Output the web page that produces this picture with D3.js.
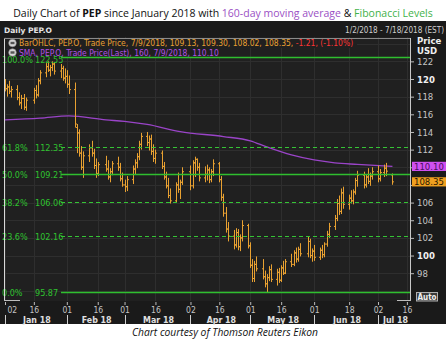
<!DOCTYPE html>
<html><head><meta charset="utf-8">
<script src="https://cdn.jsdelivr.net/npm/d3@7"></script>
<style>body{margin:0;background:#fff}svg{display:block}</style>
</head><body>
<svg id="c" width="446" height="341"></svg>
<script>
// Daily OHLC bars for PEP.O, Jan 2 – Jul 9 2018
const tradeDates = [
"2018-01-02","2018-01-03","2018-01-04","2018-01-05","2018-01-08","2018-01-09","2018-01-10","2018-01-11","2018-01-12",
"2018-01-16","2018-01-17","2018-01-18","2018-01-19","2018-01-22","2018-01-23","2018-01-24","2018-01-25","2018-01-26",
"2018-01-29","2018-01-30","2018-01-31","2018-02-01","2018-02-02","2018-02-05","2018-02-06","2018-02-07","2018-02-08",
"2018-02-09","2018-02-12","2018-02-13","2018-02-14","2018-02-15","2018-02-16","2018-02-20","2018-02-21","2018-02-22",
"2018-02-23","2018-02-26","2018-02-27","2018-02-28","2018-03-01","2018-03-02","2018-03-05","2018-03-06","2018-03-07",
"2018-03-08","2018-03-09","2018-03-12","2018-03-13","2018-03-14","2018-03-15","2018-03-16","2018-03-19","2018-03-20",
"2018-03-21","2018-03-22","2018-03-23","2018-03-26","2018-03-27","2018-03-28","2018-03-29","2018-04-02","2018-04-03",
"2018-04-04","2018-04-05","2018-04-06","2018-04-09","2018-04-10","2018-04-11","2018-04-12","2018-04-13","2018-04-16",
"2018-04-17","2018-04-18","2018-04-19","2018-04-20","2018-04-23","2018-04-24","2018-04-25","2018-04-26","2018-04-27",
"2018-04-30","2018-05-01","2018-05-02","2018-05-03","2018-05-04","2018-05-07","2018-05-08","2018-05-09","2018-05-10",
"2018-05-11","2018-05-14","2018-05-15","2018-05-16","2018-05-17","2018-05-18","2018-05-21","2018-05-22","2018-05-23",
"2018-05-24","2018-05-25","2018-05-29","2018-05-30","2018-05-31","2018-06-01","2018-06-04","2018-06-05","2018-06-06",
"2018-06-07","2018-06-08","2018-06-11","2018-06-12","2018-06-13","2018-06-14","2018-06-15","2018-06-18","2018-06-19",
"2018-06-20","2018-06-21","2018-06-22","2018-06-25","2018-06-26","2018-06-27","2018-06-28","2018-06-29","2018-07-02",
"2018-07-03","2018-07-05","2018-07-06","2018-07-09"];

const openPx = [
119.6,118.9,119.1,118.6,118.8,117.9,117.3,117.8,116.8,
117.6,118.7,118.2,119.8,120.7,121.4,121.0,121.3,121.7,
120.9,121.2,120.1,120.3,119.4,118.8,114.5,113.9,111.6,
110.0,111.3,112.2,111.6,110.2,109.3,110.3,109.8,108.9,
109.5,110.4,110.0,108.7,108.0,107.8,108.6,109.8,110.5,
111.2,112.6,113.5,112.8,113.2,111.8,111.0,111.6,110.1,
108.9,107.9,106.8,106.2,108.0,107.5,108.3,109.5,107.9,
110.5,110.9,110.0,108.8,109.2,109.7,108.6,109.5,110.4,
108.6,106.6,104.8,103.0,102.2,101.2,102.6,101.0,102.0,
103.4,101.1,98.9,97.4,99.0,98.5,97.6,96.8,97.5,
98.4,97.3,98.1,97.2,98.6,98.0,99.3,99.0,100.3,
99.6,100.7,100.2,101.6,100.0,100.5,99.8,100.6,100.1,
101.3,102.4,103.3,104.2,105.9,105.0,107.1,105.8,106.5,
106.2,107.2,108.5,109.1,108.0,108.9,108.4,109.0,109.5,
108.7,109.4,109.9,109.13];

const highPx = [
120.0,119.4,119.8,119.2,119.3,118.5,118.2,118.3,117.9,
119.0,119.3,120.1,121.0,121.8,122.0,121.6,122.0,121.9,
121.7,121.5,121.2,121.0,120.4,119.6,114.9,114.3,112.4,
111.8,112.6,113.0,112.1,111.0,110.6,111.3,110.8,109.9,
110.7,111.2,110.5,109.4,108.6,109.0,110.2,110.9,111.6,
113.0,113.9,114.0,113.6,113.7,112.6,112.0,111.9,110.6,
109.5,108.8,107.6,108.3,109.4,108.6,110.0,110.2,110.8,
111.2,111.0,110.5,110.1,110.3,110.0,109.8,110.9,110.6,
109.0,107.0,105.5,103.8,102.9,103.1,103.0,102.4,104.0,
103.6,101.5,99.6,99.4,99.9,99.6,98.3,97.9,98.8,
99.0,98.5,98.6,98.9,99.4,99.6,100.2,100.6,100.9,
101.0,101.4,102.1,101.9,100.8,101.2,100.9,101.2,101.5,
102.8,103.7,104.6,106.4,106.8,107.6,107.8,106.9,107.4,
107.5,108.8,109.6,109.5,109.2,109.9,109.4,110.0,110.2,
109.8,110.3,110.5,109.30];

const lowPx = [
118.6,118.0,118.3,117.9,117.6,117.0,116.6,116.5,116.4,
117.2,117.8,118.0,119.4,120.2,120.8,120.3,120.9,120.5,
120.1,119.8,119.5,119.0,118.3,114.5,111.6,111.2,109.7,
108.8,110.6,111.2,109.8,108.8,109.0,109.5,108.6,108.3,
109.1,109.6,108.4,107.8,107.2,107.3,108.1,109.2,109.9,
110.8,112.0,112.4,111.9,111.4,110.6,110.4,109.8,108.6,
107.6,106.5,105.9,106.0,107.1,106.4,108.0,107.4,107.6,
108.9,109.6,108.4,108.3,108.5,108.2,108.3,109.0,108.3,
106.2,104.4,102.6,101.6,100.7,100.9,100.6,100.5,101.6,
100.8,98.6,97.0,97.0,98.2,97.3,96.4,95.87,97.1,
97.0,96.6,96.9,97.0,97.8,97.9,98.7,98.8,99.2,
99.3,99.9,99.8,99.7,99.3,99.4,99.5,99.7,99.8,
101.0,102.0,102.9,103.9,104.6,104.7,105.3,105.2,105.9,
105.8,106.9,107.8,107.6,107.7,108.1,107.9,108.6,108.3,
108.4,108.9,109.0,108.02];

const closePx = [
118.9,119.1,118.6,118.8,117.9,117.3,117.8,116.8,117.6,
118.7,118.2,119.8,120.7,121.4,121.0,121.3,121.7,120.9,
121.2,120.1,120.3,119.4,118.8,114.9,113.9,111.6,110.0,
111.3,112.2,111.6,110.2,109.3,110.3,109.8,108.9,109.5,
110.4,110.0,108.7,108.0,107.8,108.6,109.8,110.5,111.2,
112.6,113.5,112.8,113.2,111.8,111.0,111.6,110.1,108.9,
107.9,106.8,106.2,108.0,107.5,108.3,109.5,107.9,110.5,
110.9,110.0,108.8,109.2,109.7,108.6,109.5,110.4,108.6,
106.6,104.8,103.0,102.2,101.2,102.6,101.0,102.0,103.4,
101.1,98.9,97.4,99.0,98.5,97.6,96.8,97.5,98.4,
97.3,98.1,97.2,98.6,98.0,99.3,99.0,100.3,99.6,
100.7,100.2,101.6,100.0,100.5,99.8,100.6,100.1,101.3,
102.4,103.3,104.2,105.9,105.0,107.1,105.8,106.5,106.2,
107.2,108.5,109.1,108.0,108.9,108.4,109.0,109.5,108.7,
109.4,109.9,109.56,108.35];

// 160-day simple moving average
const smaDates = ["2018-01-02","2018-01-19","2018-02-02","2018-02-20","2018-03-01","2018-03-12","2018-03-28",
                  "2018-04-18","2018-05-01","2018-05-09","2018-05-21","2018-06-01","2018-06-11","2018-06-22","2018-07-09"];
const smaValues = [115.37,115.56,115.82,115.37,115.20,114.85,114.04,113.48,113.00,112.31,111.40,110.83,110.50,110.33,110.10];

// Fibonacci retracement levels
const fibRatios = ["0.0%","23.6%","38.2%","50.0%","61.8%","100.0%"];
const fibLevels = [95.87,102.16,106.06,109.21,112.35,122.55];
const fibSolid  = [true,false,false,true,false,true];

const priceTicks = [98,100,102,104,106,108,110,112,114,116,118,120,122];
const boldTicks = [100,120];
const hiddenTicks = [108,110];
const dateTicks = ["2018-01-02","2018-01-16","2018-02-01","2018-02-16","2018-03-01","2018-03-16","2018-04-02",
                   "2018-04-16","2018-05-01","2018-05-16","2018-06-01","2018-06-18","2018-07-02","2018-07-16"];
const monthStarts = ["2018-01-02","2018-02-01","2018-03-01","2018-04-02","2018-05-01","2018-06-01","2018-07-02"];
const monthNames = ["Jan 18","Feb 18","Mar 18","Apr 18","May 18","Jun 18","Jul 18"];

const lastSma = 110.10, lastClose = 108.35;

const parse = d3.utcParse("%Y-%m-%d");
const svg = d3.select("#c");
const W = 446, H = 341;
const plot = {x0: 4, x1: 411, y0: 37, y1: 301};
const UI = "'DejaVu Sans Condensed', 'DejaVu Sans', sans-serif";

const x = d3.scaleUtc().domain([parse("2018-01-02"), parse("2018-07-18")]).range([5, 411]);
const y = d3.scaleLinear().domain([95.87, 122.55]).range([292, 56.5]);

// shrink a text's font until it fits the given width
function fit(sel, width) {
  const n = sel.node();
  const size = +sel.attr("font-size");
  const len = n.getComputedTextLength();
  if (len > 0) sel.attr("font-size", (size * width / len).toFixed(2));
  return sel;
}

svg.append("rect").attr("width", W).attr("height", H).attr("fill", "#fff");
svg.append("rect").attr("x", 0).attr("y", 21).attr("width", W).attr("height", 303).attr("fill", "#1a1a1a");
svg.append("rect").attr("x", plot.x0).attr("y", plot.y0).attr("width", plot.x1 - plot.x0)
   .attr("height", plot.y1 - plot.y0).attr("fill", "#202020");

// Title
const title = svg.append("text").attr("x", 223).attr("y", 16.5).attr("text-anchor", "middle")
  .attr("font-family", "'Open Sans', sans-serif").attr("font-size", 12).attr("fill", "#111");
title.append("tspan").text("Daily Chart of ");
title.append("tspan").attr("font-weight", "bold").text("PEP");
title.append("tspan").text(" since January 2018 with ");
title.append("tspan").attr("fill", "#9a4fc4").text("160-day moving average");
title.append("tspan").text(" & ");
title.append("tspan").attr("fill", "#3fb24a").text("Fibonacci Levels");
fit(title, 420);

// Header
fit(svg.append("text").attr("x", 4).attr("y", 33).attr("font-family", "'DejaVu Sans', sans-serif")
  .attr("font-size", 10).attr("font-weight", "bold").attr("fill", "#e4e4e4").text("Daily PEP.O"), 48);
fit(svg.append("text").attr("x", 444).attr("y", 33).attr("text-anchor", "end")
  .attr("font-family", UI).attr("font-size", 10).attr("fill", "#cfcfcf")
  .text("1/2/2018 - 7/18/2018 (EST)"), 99);

// Grid
const grid = svg.append("g").attr("stroke", "#2e2e2e").attr("stroke-width", 1);
grid.selectAll("line.h").data(d3.range(96, 125, 2)).join("line")
  .attr("x1", plot.x0).attr("x2", plot.x1)
  .attr("y1", d => Math.round(y(d)) + 0.5).attr("y2", d => Math.round(y(d)) + 0.5);
grid.selectAll("line.v").data(dateTicks).join("line")
  .attr("x1", d => Math.round(x(parse(d))) + 0.5).attr("x2", d => Math.round(x(parse(d))) + 0.5)
  .attr("y1", plot.y0).attr("y2", plot.y1);

// Fibonacci lines
const fibG = svg.append("g");
fibLevels.forEach((lv, i) => {
  const yy = Math.round(y(lv)) + 0.5;
  fibG.append("line").attr("x1", 61).attr("x2", plot.x1).attr("y1", yy).attr("y2", yy)
    .attr("stroke", fibSolid[i] ? "#2fbf2f" : "#35c435").attr("stroke-width", fibSolid[i] ? 1.3 : 1)
    .attr("stroke-dasharray", fibSolid[i] ? null : "4,3");
});

// Moving average
const smaLine = d3.line().x((d, i) => x(parse(smaDates[i]))).y(d => y(d)).curve(d3.curveMonotoneX);
svg.append("path").attr("d", smaLine(smaValues)).attr("fill", "none")
  .attr("stroke", "#9a44c8").attr("stroke-width", 1.3);

// OHLC bars
const bars = svg.append("g").attr("stroke", "#e9a131").attr("stroke-width", 1);
tradeDates.forEach((d, i) => {
  const cx = Math.round(x(parse(d))) + 0.5;
  bars.append("line").attr("x1", cx).attr("x2", cx).attr("y1", y(highPx[i])).attr("y2", y(lowPx[i]));
  bars.append("line").attr("x1", cx - 1.5).attr("x2", cx).attr("y1", y(openPx[i])).attr("y2", y(openPx[i]));
  bars.append("line").attr("x1", cx).attr("x2", cx + 1.5).attr("y1", y(closePx[i])).attr("y2", y(closePx[i]));
});

// Legend backing
svg.append("rect").attr("x", 5).attr("y", 39).attr("width", 352).attr("height", 9).attr("fill", "#202020");
svg.append("rect").attr("x", 5).attr("y", 48).attr("width", 217).attr("height", 9).attr("fill", "#202020");

// Fibonacci labels (the top one sits just under the legend rows)
fibLevels.forEach((lv, i) => {
  const yy = Math.round(y(lv)) + 0.5 + (i === fibLevels.length - 1 ? 2 : 0);
  fibG.append("text").attr("x", 2).attr("y", yy + 3.5).attr("font-family", UI)
    .attr("font-size", 9).attr("fill", "#2fc22f").text(fibRatios[i]);
  fibG.append("text").attr("x", 35).attr("y", yy + 3.5).attr("font-family", UI)
    .attr("font-size", 9).attr("fill", "#2fc22f").text(lv.toFixed(2));
});
svg.node().appendChild(fibG.node());

// Plot frame
svg.append("line").attr("x1", 4.5).attr("x2", 4.5).attr("y1", 38).attr("y2", 301).attr("stroke", "#d8d8d8");
svg.append("line").attr("x1", 4).attr("x2", 411).attr("y1", 38.5).attr("y2", 38.5).attr("stroke", "#8a8a8a");
svg.append("line").attr("x1", 410.5).attr("x2", 410.5).attr("y1", 38).attr("y2", 301).attr("stroke", "#c8c8c8");
svg.append("line").attr("x1", 4).attr("x2", 20).attr("y1", 300.5).attr("y2", 300.5).attr("stroke", "#bdbdbd");
svg.append("line").attr("x1", 397).attr("x2", 411).attr("y1", 300.5).attr("y2", 300.5).attr("stroke", "#bdbdbd");

// Legend
function icon(cy) {
  svg.append("circle").attr("cx", 12.5).attr("cy", cy).attr("r", 3.8).attr("fill", "#d6d6d6").attr("stroke", "#8a8a8a").attr("stroke-width", 0.6);
  svg.append("rect").attr("x", 10.5).attr("y", cy - 1.2).attr("width", 4).attr("height", 2.4).attr("fill", "#555");
}
icon(43);
icon(52.5);
const lg1 = svg.append("text").attr("x", 19).attr("y", 46.2).attr("font-family", UI).attr("font-size", 9.5);
lg1.append("tspan").attr("fill", "#eba032")
  .text("BarOHLC, PEP.O, Trade Price, 7/9/2018, 109.13, 109.30, 108.02, 108.35, ");
lg1.append("tspan").attr("fill", "#ff3535").text("-1.21, (-1.10%)");
fit(lg1, 334);
fit(svg.append("text").attr("x", 19).attr("y", 55.6).attr("font-family", UI)
  .attr("font-size", 9.5).attr("fill", "#b152e6")
  .text("SMA, PEP.O, Trade Price(Last),  160, 7/9/2018, 110.10"), 200);

// Price axis
const yAxis = d3.axisRight(y).tickValues(priceTicks).tickSize(3).tickPadding(3)
  .tickFormat(d => hiddenTicks.includes(d) ? "" : d3.format("d")(d));
const ya = svg.append("g").attr("transform", `translate(${plot.x1},0)`).call(yAxis);
ya.select(".domain").remove();
ya.selectAll(".tick line").attr("stroke", "#bbb");
ya.selectAll(".tick text").attr("fill", d => boldTicks.includes(d) ? "#f0f0f0" : "#c4c4c4")
  .attr("font-weight", d => boldTicks.includes(d) ? "bold" : "normal")
  .attr("font-family", UI).attr("font-size", 9.5);
svg.append("text").attr("x", 417).attr("y", 43.8).attr("font-family", UI)
  .attr("font-size", 9.5).attr("font-weight", "bold").attr("fill", "#eee").text("Price");
svg.append("text").attr("x", 417).attr("y", 54.2).attr("font-family", UI)
  .attr("font-size", 9.5).attr("font-weight", "bold").attr("fill", "#eee").text("USD");

// Last-value tags
function tag(v, bg, fg) {
  const cy = y(v);
  svg.append("rect").attr("x", 412).attr("y", cy - 4.6).attr("width", 34).attr("height", 9.2).attr("fill", bg);
  svg.append("text").attr("x", 414).attr("y", cy + 3.4).attr("font-family", UI)
    .attr("font-size", 9.5).attr("fill", fg).text(v.toFixed(2));
}
tag(lastSma, "#d050f0", "#4a0e60");
tag(lastClose, "#f0a020", "#2a1600");

// Date axis
const xAxis = d3.axisBottom(x).tickValues(dateTicks.map(parse)).tickSize(3).tickPadding(1.5)
  .tickFormat(d3.utcFormat("%d"));
const xa = svg.append("g").attr("transform", `translate(0,${plot.y1 + 1})`).call(xAxis);
xa.select(".domain").remove();
xa.selectAll(".tick line").attr("stroke", "#bbb");
xa.selectAll(".tick text").attr("fill", "#c4c4c4").attr("font-family", UI).attr("font-size", 8.5);
xa.select(".tick text").attr("text-anchor", "start").attr("dx", 2);

// Month bands
const mEnds = monthStarts.slice(1).map(parse).concat([parse("2018-07-18")]);
monthStarts.forEach((m, i) => {
  const a = x(parse(m)), b = x(mEnds[i]);
  const sx = Math.round(a) + 0.5;
  svg.append("line").attr("x1", sx).attr("x2", sx).attr("y1", 315).attr("y2", 324).attr("stroke", "#cfcfcf");
  svg.append("text").attr("x", (a + b) / 2 + 1).attr("y", 323).attr("text-anchor", "middle")
    .attr("font-family", UI).attr("font-size", 8.8).attr("font-weight", "bold")
    .attr("fill", "#e0e0e0").text(monthNames[i]);
});

// Auto button
svg.append("rect").attr("x", 416.5).attr("y", 292.5).attr("width", 21).attr("height", 8.5)
  .attr("fill", "#3a3a3a").attr("stroke", "#b0b0b0");
svg.append("text").attr("x", 427).attr("y", 299.8).attr("text-anchor", "middle")
  .attr("font-family", UI).attr("font-size", 8).attr("font-weight", "bold")
  .attr("fill", "#f0f0f0").text("Auto");

// Credit line
fit(svg.append("text").attr("x", 225).attr("y", 336).attr("text-anchor", "middle")
  .attr("font-family", "'Open Sans', sans-serif").attr("font-style", "italic").attr("font-size", 10.5)
  .attr("fill", "#111").text("Chart courtesy of Thomson Reuters Eikon"), 186);
</script>
</body></html>
